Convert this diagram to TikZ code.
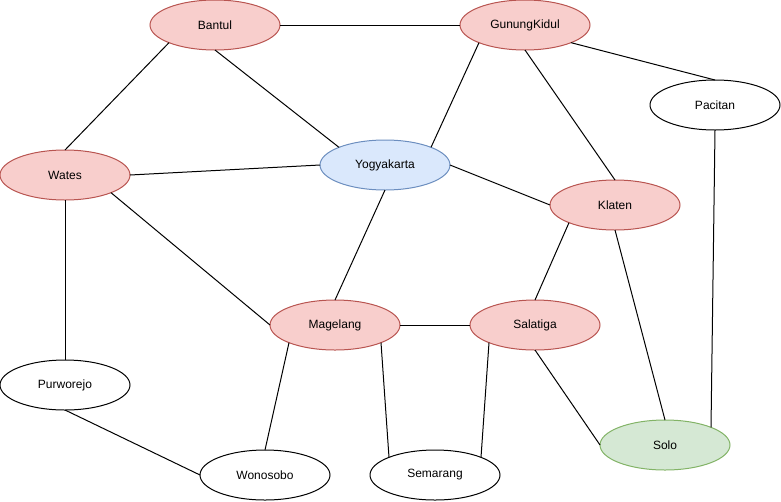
\documentclass[tikz,border=0pt]{standalone}
\usepackage{fontspec}
\setmainfont{Liberation Sans}
\usepackage{tikz}
\usetikzlibrary{shapes.geometric}

\definecolor{redfill}{HTML}{F8CECC}
\definecolor{redline}{HTML}{B85450}
\definecolor{bluefill}{HTML}{DAE8FC}
\definecolor{blueline}{HTML}{6C8EBF}
\definecolor{greenfill}{HTML}{D5E8D4}
\definecolor{greenline}{HTML}{82B366}

\begin{document}
\begin{tikzpicture}[
  x=1pt,y=-1pt,
  city/.style={ellipse,draw=#1,line width=1pt,inner sep=0pt,outer sep=0pt,minimum width=130pt,minimum height=50pt,font=\fontsize{12}{14}\selectfont},
  city/.default=black,
  redcity/.style={city=redline,fill=redfill},
  bluecity/.style={city=blueline,fill=bluefill},
  greencity/.style={city=greenline,fill=greenfill},
  road/.style={line width=1pt},
]
\useasboundingbox (0,0) rectangle (781,501);

% Cities
\node[redcity]   (Bantul)      at (215,25)  {Bantul};
\node[redcity]   (GunungKidul) at (525,25)  {GunungKidul};
\node[city]      (Pacitan)     at (715,105) {Pacitan};
\node[bluecity]  (Yogyakarta)  at (385,165) {Yogyakarta};
\node[redcity]   (Wates)       at (65,175)  {Wates};
\node[redcity]   (Klaten)      at (615,205) {Klaten};
\node[redcity]   (Magelang)    at (335,325) {Magelang};
\node[redcity]   (Salatiga)    at (535,325) {Salatiga};
\node[city]      (Purworejo)   at (65,385)  {Purworejo};
\node[greencity] (Solo)        at (665,445) {Solo};
\node[city]      (Wonosobo)    at (265,475) {Wonosobo};
\node[city]      (Semarang)    at (435,475) {Semarang};

% Roads from the top row
\draw[road] (Bantul.east) -- (GunungKidul.west);
\draw[road] (Bantul.201) -- (Wates.north);
\draw[road] (Bantul.south) -- (Yogyakarta.159);
\draw[road] (GunungKidul.201) -- (Yogyakarta.21);
\draw[road] (GunungKidul.339) -- (Pacitan.north);
\draw[road] (GunungKidul.south) -- (Klaten.north);

% Roads in the middle
\draw[road] (Wates.east) -- (Yogyakarta.west);
\draw[road] (Yogyakarta.east) -- (Klaten.west);
\draw[road] (Yogyakarta.south) -- (Magelang.north);
\draw[road] (Wates.339) -- (Magelang.west);
\draw[road] (Wates.south) -- (Purworejo.north);
\draw[road] (Pacitan.south) -- (Solo.21);
\draw[road] (Klaten.201) -- (Salatiga.north);
\draw[road] (Klaten.south) -- (Solo.north);
\draw[road] (Magelang.east) -- (Salatiga.west);

% Roads to the bottom row
\draw[road] (Magelang.201) -- (Wonosobo.north);
\draw[road] (Magelang.339) -- (Semarang.159);
\draw[road] (Salatiga.201) -- (Semarang.21);
\draw[road] (Salatiga.south) -- (Solo.west);
\draw[road] (Purworejo.south) -- (Wonosobo.west);

\end{tikzpicture}
\end{document}
